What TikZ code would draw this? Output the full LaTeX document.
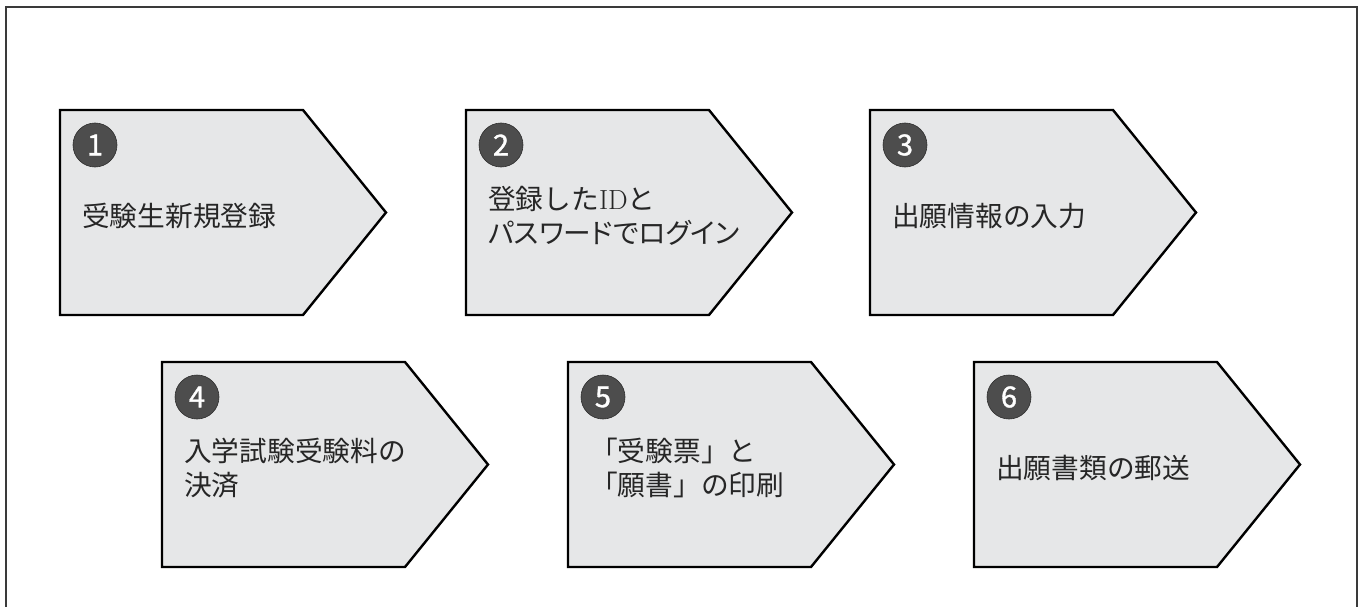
\documentclass[tikz,border=0pt]{standalone}
\usepackage{fontspec}
\newfontfamily\jpfont{Noto Sans CJK JP}
\newfontfamily\jppfont[RawFeature=+palt]{Noto Sans CJK JP}
\newfontfamily\numfont[FakeBold=1.2]{Noto Sans CJK JP}
\definecolor{stepgray}{HTML}{E6E7E8}
\definecolor{numgray}{HTML}{4D4D4D}
\definecolor{framegray}{HTML}{3A3A3A}

\begin{document}
\begin{tikzpicture}[
    stepbox/.style={draw=black, fill=stepgray, line width=2.4pt, line join=miter},
    num/.style={circle, fill=numgray, draw=numgray!60!black, line width=0.6pt, minimum size=44pt, inner sep=0pt,
        text=white, font=\numfont\fontsize{29}{29}\selectfont},
    steptext/.style={anchor=west, align=left, inner sep=0pt, text=black!85,
        font=\jpfont\fontsize{27.7}{34}\selectfont},
    x=1pt, y=1pt]

    \useasboundingbox (0, 0) rectangle (1362, -607);

    % ----- outer frame, open at the bottom edge
    \draw[framegray, line width=1.2pt] (6, -607) -- (6, -7) -- (1357, -7) -- (1357, -607);

    % ----- six steps: number / left edge / top edge / text
    \foreach \n/\x/\y/\txt in {
        1/60/110/{受験生新規登録},
        2/466/110/{登録した{\rmfamily ID}と\\{\jppfont パスワードでログイン}},
        3/870/110/{出願情報の入力},
        4/162/362/{入学試験受験料の\\決済},
        5/568/362/{「受験票」と\\「願書」の印刷},
        6/974/362/{出願書類の郵送}} {
        \draw[stepbox] (\x, -\y) -- ++(243, 0) -- ++(83, -102.5) -- ++(-83, -102.5) -- ++(-243, 0) -- cycle;
        \node[num] (n\n) at (\x+35, -\y-35) {\n};
        \node[steptext] (t\n) at (\x+22, -\y-106) {\txt};
    }
\end{tikzpicture}
\end{document}
